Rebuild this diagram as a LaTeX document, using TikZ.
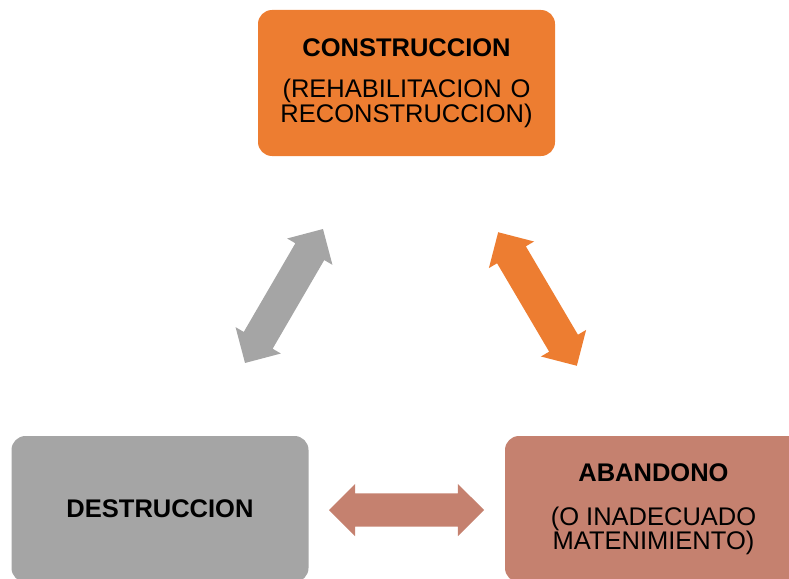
\documentclass[tikz,border=0pt]{standalone}
\usepackage{fontspec}
\setmainfont{Liberation Sans}
\usetikzlibrary{shapes.arrows}
\definecolor{cOrange}{HTML}{ED7D31}
\definecolor{cGray}{HTML}{A5A5A5}
\definecolor{cBrown}{HTML}{C5816F}
\tikzset{
  stagebox/.style={rounded corners=14pt, minimum width=297pt, minimum height=146pt,
    inner sep=0pt, align=center, text=black},
  blockarrow/.style={double arrow, draw=none, minimum height=155pt, minimum width=52pt,
    double arrow head extend=9.5pt, double arrow tip angle=90, inner xsep=0pt, inner ysep=16.5pt}
}
\newcommand{\boldline}[1]{{\fontsize{25.5}{23}\selectfont\bfseries #1}}
\begin{document}
\begin{tikzpicture}[x=1pt,y=-1pt]
\useasboundingbox (0,0) rectangle (789,578);
\clip (0,0) rectangle (789,578);
\node[stagebox, fill=cOrange, font=\fontsize{25.5}{23}\selectfont] (cons) at (406.5,83)
  {\boldline{CONSTRUCCION}\\[18pt](REHABILITACION\hspace{9pt}O\\RECONSTRUCCION)};
\node[stagebox, fill=cGray] (dest) at (160,509)
  {\boldline{DESTRUCCION}};
\node[stagebox, fill=cBrown, font=\fontsize{25.5}{24}\selectfont] (aban) at (653.5,509)
  {\boldline{ABANDONO}\\[20pt](O INADECUADO\\MATENIMIENTO)};
\node[blockarrow, fill=cGray, rotate=59.8] (a1) at (284,296) {};
\node[blockarrow, fill=cOrange, rotate=-59.5] (a2) at (537.5,299) {};
\node[blockarrow, fill=cBrown] (a3) at (406.5,510) {};
\end{tikzpicture}
\end{document}
